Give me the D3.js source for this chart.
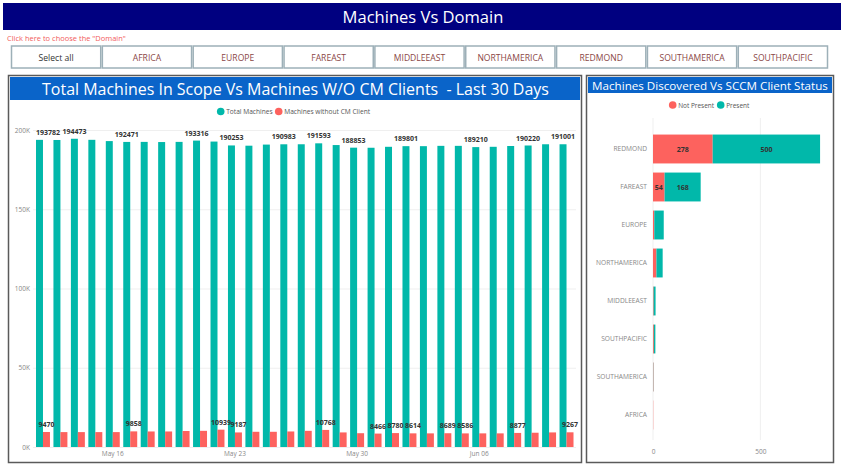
<!DOCTYPE html>
<html><head><meta charset="utf-8">
<script src="https://cdn.jsdelivr.net/npm/d3@7"></script>
<style>
body{margin:0;background:#fff}
svg{display:block}
text{font-family:"Segoe UI","Open Sans","Noto Sans",sans-serif;white-space:pre}
.dl{font-family:"DejaVu Sans Condensed","DejaVu Sans",sans-serif;font-weight:bold}
</style>
</head><body><svg id="c" width="844" height="469"></svg>
<script>
// ---------- data ----------
const pageTitle = "Machines Vs Domain";
const hint = 'Click here to choose the "Domain"';
const domainButtons = ["Select all","AFRICA","EUROPE","FAREAST","MIDDLEEAST","NORTHAMERICA","REDMOND","SOUTHAMERICA","SOUTHPACIFIC"];

const leftTitle = "Total Machines In Scope Vs Machines W/O CM Clients  - Last 30 Days";
const seriesNames = ["Total Machines","Machines without CM Client"];
const dates = ["2021-05-12","2021-05-13","2021-05-14","2021-05-15","2021-05-16","2021-05-17","2021-05-18",
  "2021-05-19","2021-05-20","2021-05-21","2021-05-22","2021-05-23","2021-05-24","2021-05-25","2021-05-26",
  "2021-05-27","2021-05-28","2021-05-29","2021-05-30","2021-05-31","2021-06-01","2021-06-02","2021-06-03",
  "2021-06-04","2021-06-05","2021-06-06","2021-06-07","2021-06-08","2021-06-09","2021-06-10","2021-06-11"];
const totalMachines = [193782,193700,194473,193800,193000,192471,192500,192400,192500,193316,192700,190253,
  190100,190800,190983,191000,191593,190500,188853,188800,189400,189801,189800,190000,190000,189210,189400,
  189900,190220,191000,191001];
const withoutClient = [9470,9400,9400,9400,9400,9858,9800,9800,10100,10200,10939,9187,9600,9600,9800,10200,
  10768,9200,8700,8466,8780,8614,8600,8689,8586,8600,8600,8877,9000,9200,9267];
const totalLabelIdx = [0,2,5,9,11,14,16,18,21,25,28,30];
const withoutLabelIdx = [0,5,10,11,16,19,20,21,23,24,27,30];
const yTicks = [0,50000,100000,150000,200000];
const xTickDates = ["2021-05-16","2021-05-23","2021-05-30","2021-06-06"];

const rightTitle = "Machines Discovered Vs SCCM Client Status";
const statusNames = ["Not Present","Present"];
const domains = ["REDMOND","FAREAST","EUROPE","NORTHAMERICA","MIDDLEEAST","SOUTHPACIFIC","SOUTHAMERICA","AFRICA"];
const notPresent = [278,54,6,16,3,4,2,1];
const present = [500,168,44,29,9,7,1,0];
const barTicks = [0,500];
const labelDomains = ["REDMOND","FAREAST"];

// ---------- style ----------
const TEAL = "#01B8AA", RED = "#FD625E", NAVY = "#000080", BLUE = "#0a64c9";
const svg = d3.select("#c");

function fitText(sel, target){
  const n = sel.node(); const fs = parseFloat(sel.attr("font-size"));
  const w = n.getComputedTextLength(); if (w>0) sel.attr("font-size", fs*target/w);
}
// font size that makes `str` measure `target` px
function sizeFor(str, target, base){
  const t = svg.append("text").attr("font-size",base).text(str);
  const w = t.node().getComputedTextLength(); t.remove();
  return base*target/w;
}

// ---------- page header ----------
svg.append("rect").attr("x",3).attr("y",3).attr("width",838).attr("height",27).attr("fill",NAVY);
svg.append("text").attr("x",423).attr("y",22.5).attr("text-anchor","middle").attr("fill","#fff")
  .attr("font-size",17).text(pageTitle).call(s=>fitText(s,161));
svg.append("text").attr("x",7).attr("y",41).attr("fill","#f25c5c").attr("font-size",8).text(hint)
  .call(s=>fitText(s,119));

const btnFs = sizeFor("NORTHAMERICA",66,9);
const bx = d3.scaleBand().domain(domainButtons).range([11.5,827.5]).paddingInner(0.018);
const btn = svg.append("g").selectAll("g").data(domainButtons).join("g")
  .attr("transform",d=>`translate(${bx(d)},46)`);
btn.append("rect").attr("width",bx.bandwidth()).attr("height",22).attr("fill","#fff")
  .attr("stroke","#9db0b8").attr("stroke-width",1.5);
btn.append("text").attr("x",bx.bandwidth()/2).attr("y",14.5).attr("text-anchor","middle")
  .attr("font-size",btnFs).attr("fill",(d,i)=>i===0?"#333":"#8a4646").text(d=>d);

// ---------- left panel ----------
svg.append("rect").attr("x",8.5).attr("y",75.5).attr("width",573).attr("height",387)
  .attr("fill","#fff").attr("stroke","#5a5a5a").attr("stroke-width",1.5);
svg.append("rect").attr("x",10).attr("y",77).attr("width",570).attr("height",23).attr("fill",BLUE);
svg.append("text").attr("x",295.5).attr("y",95).attr("text-anchor","middle").attr("fill","#fff")
  .attr("font-size",17).text(leftTitle).call(s=>fitText(s,507));

// legend
const legFs = sizeFor("Machines without CM Client",86,8);
const lg = svg.append("g").attr("font-size",legFs).attr("fill","#555");
[[220.7,TEAL,seriesNames[0]],[278.7,RED,seriesNames[1]]].forEach(([cx,c,t])=>{
  lg.append("circle").attr("cx",cx).attr("cy",111.5).attr("r",3.8).attr("fill",c);
  lg.append("text").attr("x",cx+5.5).attr("y",114).text(t);
});

const axFs = sizeFor("May 16",22,8);
const parse = d3.timeParse("%Y-%m-%d"), fmtX = d3.timeFormat("%b %d");
const x0 = d3.scaleBand().domain(dates).range([34.25,575.25]).paddingInner(0.2).paddingOuter(0.1);
const x1 = d3.scaleBand().domain(["t","w"]).range([0,x0.bandwidth()]);
const y = d3.scaleLinear().domain([0,200000]).range([447,130]);

// gridlines
svg.append("g").attr("transform","translate(33,0)")
  .call(d3.axisLeft(y).tickValues(yTicks).tickSize(-543).tickFormat(""))
  .call(g=>g.select(".domain").remove())
  .call(g=>g.selectAll("line").attr("stroke","#efefef"));
// y axis labels
svg.append("g").attr("transform","translate(33,0)")
  .call(d3.axisLeft(y).tickValues(yTicks).tickSize(0).tickPadding(3).tickFormat(d=>(d/1000)+"K"))
  .call(g=>g.select(".domain").remove())
  .call(g=>g.selectAll("text").attr("fill","#888").attr("font-size",axFs).attr("font-family",null));

const rows = dates.map((d,i)=>({d, t: totalMachines[i], w: withoutClient[i], i}));
const grp = svg.append("g").selectAll("g").data(rows).join("g").attr("transform",r=>`translate(${x0(r.d)},0)`);
grp.append("rect").attr("x",x1("t")).attr("width",x1.bandwidth()).attr("y",r=>y(r.t))
  .attr("height",r=>y(0)-y(r.t)).attr("fill",TEAL);
grp.append("rect").attr("x",x1("w")).attr("width",x1.bandwidth()).attr("y",r=>y(r.w))
  .attr("height",r=>y(0)-y(r.w)).attr("fill",RED);

// data labels
const dlg = svg.append("g").attr("class","dl").attr("font-size",7).attr("fill","#333").attr("text-anchor","middle");
totalLabelIdx.forEach(i=>{
  const cx = x0(dates[i])+x1("t")+x1.bandwidth()/2;
  const t = dlg.append("text").attr("x",cx).attr("y",y(totalMachines[i])-5).text(totalMachines[i]);
  const w = t.node().getComputedTextLength();
  if (cx - w/2 < x0(dates[0])) t.attr("x", x0(dates[0]) + w/2);
});
withoutLabelIdx.forEach(i=>{
  const cx = x0(dates[i])+x1("w")+x1.bandwidth()/2;
  dlg.append("text").attr("x",cx).attr("y",y(withoutClient[i])-5).text(withoutClient[i]);
});

// x axis
svg.append("g").attr("transform","translate(0,447)")
  .call(d3.axisBottom(x0).tickValues(xTickDates).tickSize(0).tickPadding(4).tickFormat(d=>fmtX(parse(d))))
  .call(g=>g.select(".domain").remove())
  .call(g=>g.selectAll("text").attr("fill","#888").attr("font-size",axFs).attr("font-family",null));

// ---------- right panel ----------
svg.append("rect").attr("x",586.5).attr("y",75.5).attr("width",247).attr("height",387)
  .attr("fill","#fff").attr("stroke","#5a5a5a").attr("stroke-width",1.5);
svg.append("rect").attr("x",588).attr("y",77).attr("width",244).attr("height",16).attr("fill",BLUE);
svg.append("text").attr("x",710).attr("y",89.5).attr("text-anchor","middle").attr("fill","#fff")
  .attr("font-size",13).text(rightTitle).call(s=>fitText(s,236));

const leg2Fs = sizeFor("Not Present",36,8);
const lg2 = svg.append("g").attr("font-size",leg2Fs).attr("fill","#555");
[[672.7,RED,statusNames[0]],[720.7,TEAL,statusNames[1]]].forEach(([cx,c,t])=>{
  lg2.append("circle").attr("cx",cx).attr("cy",105).attr("r",3.8).attr("fill",c);
  lg2.append("text").attr("x",cx+5.5).attr("y",107.5).text(t);
});

const xr = d3.scaleLinear().domain([0,800]).range([653,824.8]);
const yr = d3.scaleBand().domain(domains).range([130,434]).paddingInner(0.24).paddingOuter(0.12);

svg.append("g").selectAll("line").data(barTicks).join("line")
  .attr("x1",d=>xr(d)).attr("x2",d=>xr(d)).attr("y1",118).attr("y2",440)
  .attr("stroke","#efefef");

const table = domains.map((d,i)=>({domain:d, np: notPresent[i], p: present[i]}));
const stacked = d3.stack().keys(["np","p"])(table);
const colors = {np: RED, p: TEAL};
svg.append("g").selectAll("g").data(stacked).join("g").attr("fill",s=>colors[s.key])
  .selectAll("rect").data(s=>s).join("rect")
  .attr("x",d=>xr(d[0])).attr("width",d=>xr(d[1])-xr(d[0]))
  .attr("y",d=>yr(d.data.domain)).attr("height",yr.bandwidth());

const dl2 = svg.append("g").attr("class","dl").attr("font-size",7).attr("fill","#333").attr("text-anchor","middle");
stacked.forEach(s=>s.forEach(d=>{
  if (!labelDomains.includes(d.data.domain)) return;
  dl2.append("text").attr("x",(xr(d[0])+xr(d[1]))/2).attr("y",yr(d.data.domain)+yr.bandwidth()/2+2.5)
    .text(d[1]-d[0]);
}));

const catFs = sizeFor("NORTHAMERICA",51,8);
svg.append("g").attr("transform","translate(650,0)")
  .call(d3.axisLeft(yr).tickSize(0).tickPadding(3))
  .call(g=>g.select(".domain").remove())
  .call(g=>g.selectAll("text").attr("fill","#888").attr("font-size",catFs).attr("font-family",null));
svg.append("g").attr("transform","translate(0,441)")
  .call(d3.axisBottom(xr).tickValues(barTicks).tickSize(0).tickPadding(8))
  .call(g=>g.select(".domain").remove())
  .call(g=>g.selectAll("text").attr("fill","#888").attr("font-size",axFs).attr("font-family",null));
</script>
</body></html>
